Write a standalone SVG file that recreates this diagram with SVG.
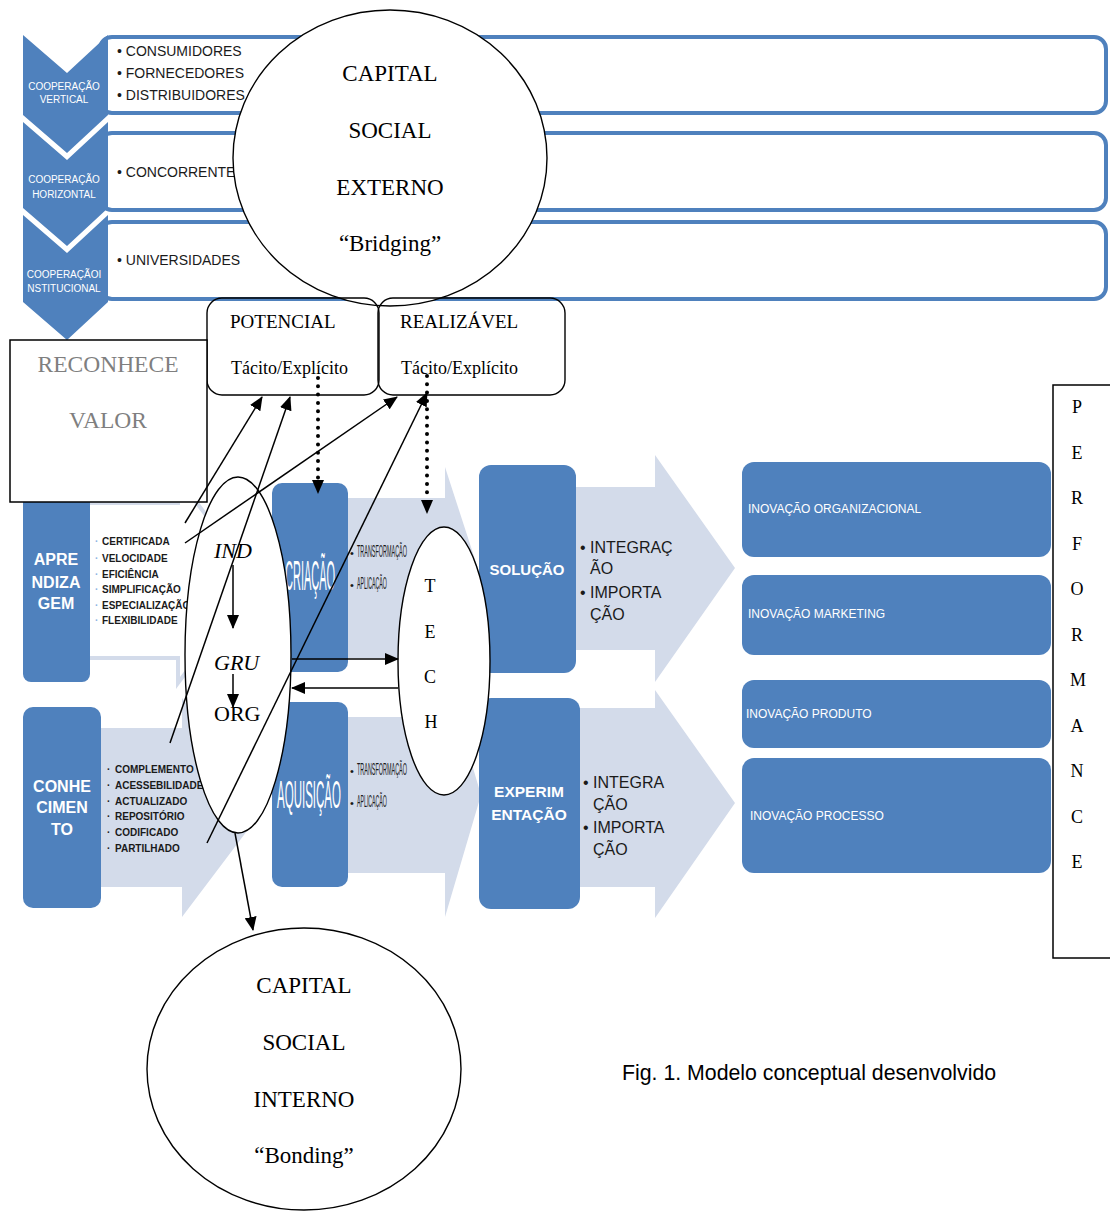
<svg xmlns="http://www.w3.org/2000/svg" width="1110" height="1212" viewBox="0 0 1110 1212">
<defs>
<marker id="ah" markerUnits="userSpaceOnUse" markerWidth="14" markerHeight="12" viewBox="0 0 14 12" refX="13" refY="6" orient="auto"><path d="M0,0 L14,6 L0,12 z" fill="#000"/></marker>
</defs>
<style>
.blue{fill:#4F81BD}
.light{fill:#D3DBEA}
.frame{fill:#fff;stroke:#4F81BD;stroke-width:4}
.ser{font-family:"Liberation Serif","Times New Roman",serif;fill:#000}
.sans{font-family:"Liberation Sans",Arial,sans-serif}
.wt{fill:#fff}
.dk{fill:#1a1a1a}
.ln{stroke:#000;stroke-width:1.5;fill:none}
.dot{stroke:#000;stroke-width:4;stroke-linecap:round;stroke-dasharray:0 8.3;fill:none}
.ol{fill:#fff;stroke:#000;stroke-width:1.4}
.bx{fill:none;stroke:#000;stroke-width:1.4}
.mid{text-anchor:middle}
.lb{fill:#8EB4E3}
</style>

<g id="coop-vertical">
<rect class="frame" x="100" y="37" width="1006" height="76" rx="12"/>
<polygon class="blue" points="23,35 67,73 108,35 108,115 67,153 23,115"/>
<text class="sans wt mid" font-size="10" x="64" y="90">COOPERAÇÃO</text>
<text class="sans wt mid" font-size="10" x="64" y="103">VERTICAL</text>
<text class="sans dk" font-size="14" x="117" y="56">• CONSUMIDORES</text>
<text class="sans dk" font-size="14" x="117" y="78">• FORNECEDORES</text>
<text class="sans dk" font-size="14" x="117" y="100">• DISTRIBUIDORES</text>
</g>
<g id="coop-horizontal">
<rect class="frame" x="100" y="133" width="1006" height="77" rx="12"/>
<polygon class="blue" points="23,122 67,160 108,122 108,208 67,246 23,208"/>
<text class="sans wt mid" font-size="10" x="64" y="183">COOPERAÇÃO</text>
<text class="sans wt mid" font-size="10" x="64" y="198">HORIZONTAL</text>
<text class="sans dk" font-size="14" x="117" y="177">• CONCORRENTE</text>
</g>
<g id="coop-institucional">
<rect class="frame" x="100" y="222" width="1006" height="77" rx="12"/>
<polygon class="blue" points="23,215 67,253 108,215 108,302 67,340 23,302"/>
<text class="sans wt mid" font-size="10" x="64" y="278">COOPERAÇÃOI</text>
<text class="sans wt mid" font-size="10" x="64" y="292">NSTITUCIONAL</text>
<text class="sans dk" font-size="14" x="117" y="265">• UNIVERSIDADES</text>
</g>

<g id="capital-externo">
<ellipse class="ol" cx="390" cy="158" rx="157" ry="148"/>
<text class="ser mid" font-size="23" x="390" y="81">CAPITAL</text>
<text class="ser mid" font-size="23" x="390" y="138">SOCIAL</text>
<text class="ser mid" font-size="23" x="390" y="195">EXTERNO</text>
<text class="ser mid" font-size="23" x="390" y="251">“Bridging”</text>
</g>

<g id="potencial">
<rect class="bx" x="207" y="298" width="172" height="97" rx="15"/>
<text class="ser" font-size="19" x="230" y="328">POTENCIAL</text>
<text class="ser" font-size="18" x="231" y="374">Tácito/Explícito</text>
</g>
<g id="realizavel">
<rect class="bx" x="378" y="298" width="187" height="97" rx="15"/>
<text class="ser" font-size="19" x="400" y="328">REALIZÁVEL</text>
<text class="ser" font-size="18" x="401" y="374">Tácito/Explícito</text>
</g>

<g id="aprendizagem">
<path d="M85,503 L178,503 L178,478 L255,580 L178,683 L178,658 L85,658 Z" fill="#fff" stroke="#D3DBEA" stroke-width="4"/>
<rect class="blue" x="23" y="470" width="67" height="212" rx="8"/>
<text class="sans wt mid" font-size="16" font-weight="bold" x="56" y="565">APRE</text>
<text class="sans wt mid" font-size="16" font-weight="bold" x="56" y="588">NDIZA</text>
<text class="sans wt mid" font-size="16" font-weight="bold" x="56" y="609">GEM</text>
<g class="sans" font-size="10" font-weight="bold">
<text class="lb" x="95" y="545">·</text><text class="dk" x="102" y="545">CERTIFICADA</text>
<text class="lb" x="95" y="562">·</text><text class="dk" x="102" y="562">VELOCIDADE</text>
<text class="lb" x="95" y="578">·</text><text class="dk" x="102" y="578">EFICIÊNCIA</text>
<text class="lb" x="95" y="593">·</text><text class="dk" x="102" y="593">SIMPLIFICAÇÃO</text>
<text class="lb" x="95" y="609">·</text><text class="dk" x="102" y="609">ESPECIALIZAÇÃO</text>
<text class="lb" x="95" y="624">·</text><text class="dk" x="102" y="624">FLEXIBILIDADE</text>
</g>
</g>

<g id="reconhece-valor">
<rect x="10" y="340" width="197" height="162" fill="#fff" stroke="#000" stroke-width="1.5"/>
<text class="mid" font-family="Liberation Serif, serif" font-size="23.5" fill="#7f7f7f" x="108" y="372">RECONHECE</text>
<text class="mid" font-family="Liberation Serif, serif" font-size="23.5" fill="#7f7f7f" x="108" y="428">VALOR</text>
</g>

<g id="conhecimento">
<path class="light" d="M95,728 L182,728 L182,698 L265,807 L182,917 L182,887 L95,887 Z"/>
<rect class="blue" x="23" y="707" width="78" height="201" rx="10"/>
<text class="sans wt mid" font-size="16" font-weight="bold" x="62" y="792">CONHE</text>
<text class="sans wt mid" font-size="16" font-weight="bold" x="62" y="813">CIMEN</text>
<text class="sans wt mid" font-size="16" font-weight="bold" x="62" y="835">TO</text>
<g class="sans" font-size="10" font-weight="bold">
<text class="dk" x="107" y="773">·</text><text class="dk" x="115" y="773">COMPLEMENTO</text>
<text class="dk" x="107" y="789">·</text><text class="dk" x="115" y="789">ACESSEBILIDADE</text>
<text class="dk" x="107" y="805">·</text><text class="dk" x="115" y="805">ACTUALIZADO</text>
<text class="dk" x="107" y="820">·</text><text class="dk" x="115" y="820">REPOSITÓRIO</text>
<text class="dk" x="107" y="836">·</text><text class="dk" x="115" y="836">CODIFICADO</text>
<text class="dk" x="107" y="852">·</text><text class="dk" x="115" y="852">PARTILHADO</text>
</g>
</g>

<g id="criacao">
<path class="light" d="M340,498 L445,498 L445,467 L481,578 L445,689 L445,658 L340,658 Z"/>
<rect class="blue" x="272" y="483" width="76" height="189" rx="10"/>
<text class="sans wt" font-size="42" transform="translate(285,590) scale(0.262,1)">CRIAÇÃO</text>
<text class="sans dk" font-size="11" x="350" y="557">•</text>
<text class="sans dk" font-size="16" transform="translate(357,557) scale(0.341,1)">TRANSFORMAÇÃO</text>
<text class="sans dk" font-size="11" x="350" y="589">•</text>
<text class="sans dk" font-size="16" transform="translate(357,589) scale(0.327,1)">APLICAÇÃO</text>
</g>

<g id="aquisicao">
<path class="light" d="M340,717 L445,717 L445,673 L481,795 L445,917 L445,873 L340,873 Z"/>
<rect class="blue" x="272" y="702" width="76" height="185" rx="10"/>
<text class="sans wt" font-size="38" transform="translate(277,808) scale(0.303,1)">AQUISIÇÃO</text>
<text class="sans dk" font-size="11" x="350" y="775">•</text>
<text class="sans dk" font-size="16" transform="translate(357,775) scale(0.341,1)">TRANSFORMAÇÃO</text>
<text class="sans dk" font-size="11" x="350" y="807">•</text>
<text class="sans dk" font-size="16" transform="translate(357,807) scale(0.327,1)">APLICAÇÃO</text>
</g>

<g id="solucao">
<path class="light" d="M570,487 L655,487 L655,455 L735,568 L655,682 L655,650 L570,650 Z"/>
<rect class="blue" x="479" y="465" width="97" height="208" rx="12"/>
<text class="sans wt mid" font-size="15" font-weight="bold" x="527" y="575">SOLUÇÃO</text>
<text class="sans dk" font-size="16" x="580" y="553">•</text>
<text class="sans dk" font-size="16" x="590" y="553">INTEGRAÇ</text>
<text class="sans dk" font-size="16" x="590" y="574">ÃO</text>
<text class="sans dk" font-size="16" x="580" y="598">•</text>
<text class="sans dk" font-size="16" x="590" y="598">IMPORTA</text>
<text class="sans dk" font-size="16" x="590" y="620">ÇÃO</text>
</g>

<g id="experimentacao">
<path class="light" d="M575,708 L655,708 L655,690 L735,803 L655,918 L655,887 L575,887 Z"/>
<rect class="blue" x="479" y="698" width="101" height="211" rx="12"/>
<text class="sans wt mid" font-size="15.5" font-weight="bold" x="529" y="797">EXPERIM</text>
<text class="sans wt mid" font-size="15.5" font-weight="bold" x="529" y="820">ENTAÇÃO</text>
<text class="sans dk" font-size="16" x="583" y="788">•</text>
<text class="sans dk" font-size="16" x="593" y="788">INTEGRA</text>
<text class="sans dk" font-size="16" x="593" y="810">ÇÃO</text>
<text class="sans dk" font-size="16" x="583" y="833">•</text>
<text class="sans dk" font-size="16" x="593" y="833">IMPORTA</text>
<text class="sans dk" font-size="16" x="593" y="855">ÇÃO</text>
</g>

<g id="ind-gru-org">
<ellipse class="ol" cx="238" cy="655" rx="53" ry="178"/>
<text class="ser" font-size="22" font-style="italic" x="214" y="558">IND</text>
<text class="ser" font-size="22" font-style="italic" x="214" y="670">GRU</text>
<text class="ser" font-size="22" x="214" y="721">ORG</text>
</g>

<g id="tech">
<ellipse class="ol" cx="444" cy="661" rx="46" ry="134"/>
<text class="ser mid" font-size="18" x="430" y="592">T</text>
<text class="ser mid" font-size="18" x="430" y="638">E</text>
<text class="ser mid" font-size="18" x="430" y="683">C</text>
<text class="ser mid" font-size="18" x="431" y="728">H</text>
</g>

<g id="inov-organizacional">
<rect class="blue" x="742" y="462" width="309" height="95" rx="12"/>
<text class="sans wt" font-size="12" x="748" y="513">INOVAÇÃO ORGANIZACIONAL</text>
</g>
<g id="inov-marketing">
<rect class="blue" x="742" y="575" width="309" height="80" rx="12"/>
<text class="sans wt" font-size="12" x="748" y="618">INOVAÇÃO MARKETING</text>
</g>
<g id="inov-produto">
<rect class="blue" x="742" y="680" width="309" height="68" rx="12"/>
<text class="sans wt" font-size="12" x="746" y="718">INOVAÇÃO PRODUTO</text>
</g>
<g id="inov-processo">
<rect class="blue" x="742" y="758" width="309" height="115" rx="12"/>
<text class="sans wt" font-size="12" x="750" y="820">INOVAÇÃO PROCESSO</text>
</g>

<g id="performance">
<rect x="1053" y="385" width="70" height="573" fill="#fff" stroke="#000" stroke-width="1.5"/>
<text class="ser mid" font-size="18" x="1077" y="413">P</text>
<text class="ser mid" font-size="18" x="1077" y="458.5">E</text>
<text class="ser mid" font-size="18" x="1077" y="504">R</text>
<text class="ser mid" font-size="18" x="1077" y="549.5">F</text>
<text class="ser mid" font-size="18" x="1077" y="595">O</text>
<text class="ser mid" font-size="18" x="1077" y="640.5">R</text>
<text class="ser mid" font-size="18" x="1078" y="686">M</text>
<text class="ser mid" font-size="18" x="1077" y="731.5">A</text>
<text class="ser mid" font-size="18" x="1077" y="777">N</text>
<text class="ser mid" font-size="18" x="1077" y="822.5">C</text>
<text class="ser mid" font-size="18" x="1077" y="868">E</text>
</g>

<g id="capital-interno">
<ellipse class="ol" cx="304" cy="1069" rx="157" ry="141"/>
<text class="ser mid" font-size="23" x="304" y="993">CAPITAL</text>
<text class="ser mid" font-size="23" x="304" y="1050">SOCIAL</text>
<text class="ser mid" font-size="23" x="304" y="1107">INTERNO</text>
<text class="ser mid" font-size="23" x="304" y="1163">“Bonding”</text>
</g>

<g id="caption">
<text class="sans" font-size="21.3" fill="#000" x="622" y="1080">Fig. 1. Modelo conceptual desenvolvido</text>
</g>

<g id="connectors">
<path class="ln" d="M185,523 L262,397" marker-end="url(#ah)"/>
<path class="ln" d="M170,743 L290,397" marker-end="url(#ah)"/>
<path class="ln" d="M185,543 L397,397" marker-end="url(#ah)"/>
<path class="ln" d="M207,843 L427,393" marker-end="url(#ah)"/>
<path class="ln" d="M233,565 L233,628" marker-end="url(#ah)"/>
<path class="ln" d="M233,674 L233,707" marker-end="url(#ah)"/>
<path class="ln" d="M292,659 L398,659" marker-end="url(#ah)"/>
<path class="ln" d="M398,688 L292,688" marker-end="url(#ah)"/>
<path class="ln" d="M235,833 L253,930" marker-end="url(#ah)"/>
<path class="dot" d="M318,378 L318,482"/>
<path d="M318,480 L318,493" stroke="none" fill="none" marker-end="url(#ah)"/>
<path class="dot" d="M427,376 L427,500"/>
<path d="M427,500 L427,513" stroke="none" fill="none" marker-end="url(#ah)"/>
</g>
</svg>
